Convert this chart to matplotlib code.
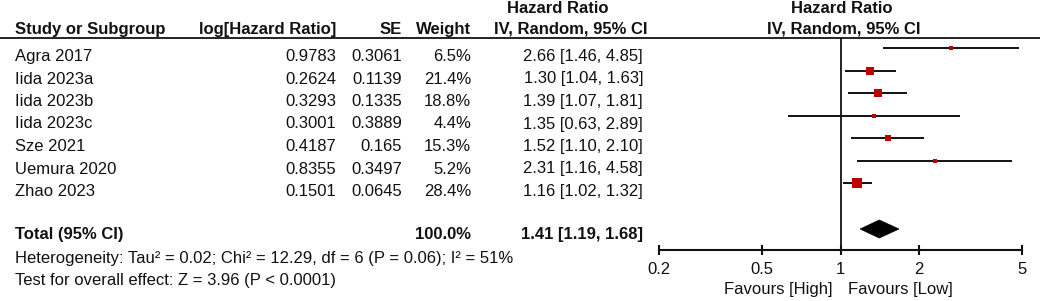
import matplotlib
matplotlib.use("Agg")
import matplotlib.pyplot as plt
from matplotlib.patches import Polygon
from matplotlib.ticker import FixedLocator, FixedFormatter, NullLocator

plt.rcParams['font.family'] = ['Liberation Sans', 'DejaVu Sans']

studies = ["Agra 2017", "Iida 2023a", "Iida 2023b", "Iida 2023c", "Sze 2021", "Uemura 2020", "Zhao 2023"]
log_hr = [0.9783, 0.2624, 0.3293, 0.3001, 0.4187, 0.8355, 0.1501]
se = [0.3061, 0.1139, 0.1335, 0.3889, 0.165, 0.3497, 0.0645]
weights = [6.5, 21.4, 18.8, 4.4, 15.3, 5.2, 28.4]
hr = [2.66, 1.30, 1.39, 1.35, 1.52, 2.31, 1.16]
ci_lo = [1.46, 1.04, 1.07, 0.63, 1.10, 1.16, 1.02]
ci_hi = [4.85, 1.63, 1.81, 2.89, 2.10, 4.58, 1.32]
total_hr, total_lo, total_hi = 1.41, 1.19, 1.68
total_weight = 100.0
heterogeneity = "Heterogeneity: Tau² = 0.02; Chi² = 12.29, df = 6 (P = 0.06); I² = 51%"
overall = "Test for overall effect: Z = 3.96 (P < 0.0001)"
xticks = [0.2, 0.5, 1, 2, 5]
xtick_labels = ["0.2", "0.5", "1", "2", "5"]

W, H = 1040, 301
fig = plt.figure(figsize=(W / 100, H / 100), dpi=100)
FS = 12
RED = '#C00000'
TXT = '#111111'

# text layer in pixel coordinates
ax_t = fig.add_axes([0, 0, 1, 1])
ax_t.set_xlim(0, W)
ax_t.set_ylim(H, 0)
ax_t.axis('off')

row0, dy = 48, 22.5
base_off = 13

# headers
ax_t.text(558, 13, "Hazard Ratio", fontsize=FS, fontweight='bold', ha='center', va='baseline', color=TXT)
ax_t.text(842, 13, "Hazard Ratio", fontsize=FS, fontweight='bold', ha='center', va='baseline', color=TXT)
hy = 34
ax_t.text(15, hy, "Study or Subgroup", fontsize=FS, fontweight='bold', ha='left', va='baseline', color=TXT)
ax_t.text(336, hy, "log[Hazard Ratio]", fontsize=FS, fontweight='bold', ha='right', va='baseline', color=TXT)
ax_t.text(402, hy, "SE", fontsize=FS, fontweight='bold', ha='right', va='baseline', color=TXT)
ax_t.text(471, hy, "Weight", fontsize=FS, fontweight='bold', ha='right', va='baseline', color=TXT)
ax_t.text(571, hy, "IV, Random, 95% CI", fontsize=FS, fontweight='bold', ha='center', va='baseline', color=TXT)
ax_t.text(844, hy, "IV, Random, 95% CI", fontsize=FS, fontweight='bold', ha='center', va='baseline', color=TXT)
ax_t.plot([0, W], [37.5, 37.5], color=TXT, lw=1.3, solid_capstyle='butt')

for i, s in enumerate(studies):
    y = row0 + dy * i + base_off
    ax_t.text(15, y, s, fontsize=FS, ha='left', va='baseline', color=TXT)
    ax_t.text(336, y, str(log_hr[i]), fontsize=FS, ha='right', va='baseline', color=TXT)
    ax_t.text(402, y, str(se[i]), fontsize=FS, ha='right', va='baseline', color=TXT)
    ax_t.text(471, y, f"{weights[i]:.1f}%", fontsize=FS, ha='right', va='baseline', color=TXT)
    ax_t.text(643, y, f"{hr[i]:.2f} [{ci_lo[i]:.2f}, {ci_hi[i]:.2f}]", fontsize=FS, ha='right', va='baseline', color=TXT)

ty = 239
ax_t.text(15, ty, "Total (95% CI)", fontsize=FS, fontweight='bold', ha='left', va='baseline', color=TXT)
ax_t.text(471, ty, f"{total_weight:.1f}%", fontsize=FS, fontweight='bold', ha='right', va='baseline', color=TXT)
ax_t.text(643, ty, f"{total_hr:.2f} [{total_lo:.2f}, {total_hi:.2f}]", fontsize=FS, fontweight='bold', ha='right', va='baseline', color=TXT)
ax_t.text(15, 263, heterogeneity, fontsize=FS, ha='left', va='baseline', color=TXT)
ax_t.text(15, 285, overall, fontsize=FS, ha='left', va='baseline', color=TXT)
ax_t.text(832, 294, "Favours [High]", fontsize=FS, ha='right', va='baseline', color=TXT)
ax_t.text(848, 294, "Favours [Low]", fontsize=FS, ha='left', va='baseline', color=TXT)

# forest axes
x_left, x_right = 659, 1022
y_top, y_bot = 38, 250
ax = fig.add_axes([x_left / W, (H - y_bot) / H, (x_right - x_left) / W, (y_bot - y_top) / H])
ax.set_xscale('log')
ax.set_xlim(0.2, 5)
r_bot = (y_bot - row0) / dy
r_top = (y_top - row0) / dy
ax.set_ylim(r_bot, r_top)
ax.patch.set_alpha(0)
for sp in ['top', 'right', 'left']:
    ax.spines[sp].set_visible(False)
ax.spines['bottom'].set_linewidth(1.5)
ax.spines['bottom'].set_color(TXT)
ax.xaxis.set_major_locator(FixedLocator(xticks))
ax.xaxis.set_major_formatter(FixedFormatter(xtick_labels))
ax.xaxis.set_minor_locator(NullLocator())
ax.set_yticks([])
ax.tick_params(axis='x', direction='inout', length=7, width=1.5, color=TXT, labelsize=FS, labelcolor=TXT, pad=5)

ax.axvline(1, color=TXT, lw=1.3)
for i in range(len(studies)):
    ax.plot([ci_lo[i], ci_hi[i]], [i, i], color=TXT, lw=1.4, solid_capstyle='butt')
    side_px = 1.78 * weights[i] ** 0.5
    ax.plot([hr[i]], [i], marker='s', color=RED, markersize=side_px * 0.72, markeredgewidth=0, linestyle='none')

tr = (229 - row0) / dy
h = 9 / dy
ax.add_patch(Polygon([(total_lo, tr), (total_hr, tr - h), (total_hi, tr), (total_hr, tr + h)],
                     closed=True, facecolor='black', edgecolor='black', lw=0.5))

fig.savefig("out.png", dpi=100)
